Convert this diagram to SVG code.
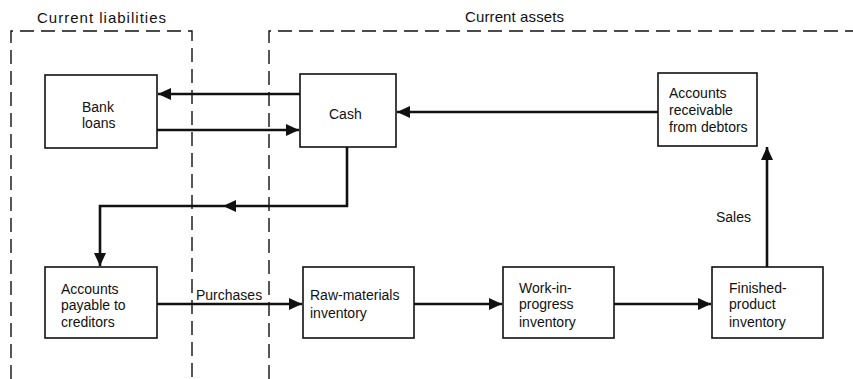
<svg xmlns="http://www.w3.org/2000/svg" width="853" height="379" viewBox="0 0 853 379">
<defs>
<style>
.box{fill:#fff;stroke:#111;stroke-width:1.6}
.dash{fill:none;stroke:#111;stroke-width:1.4;stroke-dasharray:14 7}
.flow{fill:none;stroke:#111;stroke-width:2.6}
text{font-family:"Liberation Sans","DejaVu Sans",Arial,sans-serif;font-size:14px;fill:#111}
.t{font-size:15px}
</style>
<marker id="ah" markerUnits="userSpaceOnUse" markerWidth="14" markerHeight="12" refX="13" refY="6" orient="auto">
<path d="M0,0 L13,6 L0,12 Z" fill="#111"/>
</marker>
</defs>
<rect width="853" height="379" fill="#fff"/>
<g id="regions">
<path class="dash" d="M11,379 V31 H192 V379"/>
<path class="dash" d="M269,379 V31 H853"/>
<text class="t" x="37" y="23" textLength="129" lengthAdjust="spacing">Current liabilities</text>
<text class="t" x="465" y="22" textLength="99" lengthAdjust="spacing">Current assets</text>
</g>
<g id="connectors">
<line class="flow" x1="300" y1="94" x2="158" y2="94" marker-end="url(#ah)"/>
<line class="flow" x1="157" y1="130" x2="299" y2="130" marker-end="url(#ah)"/>
<line class="flow" x1="658" y1="112" x2="397" y2="112" marker-end="url(#ah)"/>
<path class="flow" d="M347,147 V206 H100 V266" marker-end="url(#ah)"/>
<path d="M223,206 L236,200 L236,212 Z" fill="#111"/>
<line class="flow" x1="157" y1="304" x2="302" y2="304" marker-end="url(#ah)"/>
<line class="flow" x1="414" y1="304" x2="502" y2="304" marker-end="url(#ah)"/>
<line class="flow" x1="614" y1="304" x2="711" y2="304" marker-end="url(#ah)"/>
<line class="flow" x1="767" y1="267" x2="767" y2="147" marker-end="url(#ah)"/>
<text x="196" y="300">Purchases</text>
<text x="716" y="222">Sales</text>
</g>
<g id="bank-loans">
<rect class="box" x="45" y="75" width="112" height="73"/>
<text x="82" y="112">Bank</text>
<text x="82" y="128">loans</text>
</g>
<g id="cash">
<rect class="box" x="300" y="74" width="96" height="73"/>
<text x="329" y="119">Cash</text>
</g>
<g id="accounts-receivable">
<rect class="box" x="658" y="73" width="99" height="73"/>
<text x="669" y="98">Accounts</text>
<text x="669" y="115">receivable</text>
<text x="669" y="132">from debtors</text>
</g>
<g id="accounts-payable">
<rect class="box" x="45" y="267" width="112" height="71"/>
<text x="61" y="294">Accounts</text>
<text x="61" y="310">payable to</text>
<text x="61" y="327">creditors</text>
</g>
<g id="raw-materials">
<rect class="box" x="303" y="267" width="111" height="71"/>
<text x="310" y="300">Raw-materials</text>
<text x="310" y="318">inventory</text>
</g>
<g id="work-in-progress">
<rect class="box" x="503" y="267" width="111" height="71"/>
<text x="519" y="293">Work-in-</text>
<text x="519" y="309">progress</text>
<text x="519" y="327">inventory</text>
</g>
<g id="finished-product">
<rect class="box" x="712" y="267" width="111" height="71"/>
<text x="729" y="293">Finished-</text>
<text x="729" y="309">product</text>
<text x="729" y="327">inventory</text>
</g>
</svg>
